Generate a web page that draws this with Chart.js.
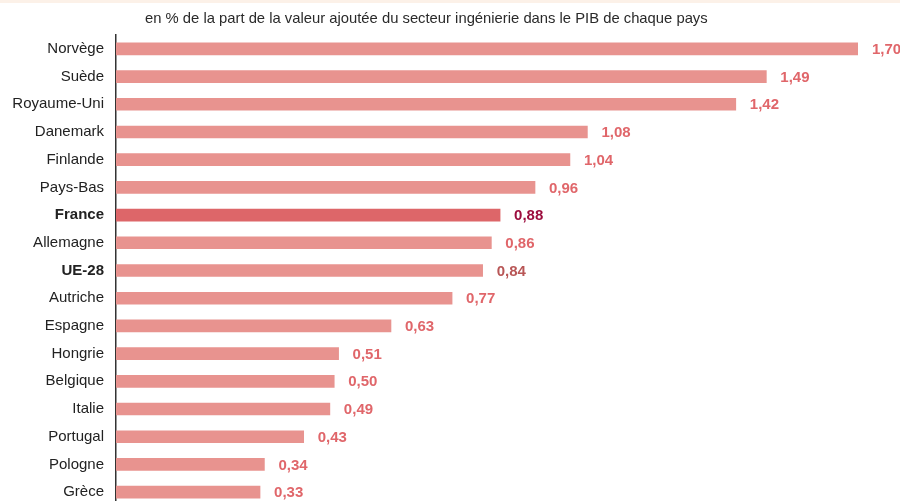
<!DOCTYPE html>
<html>
<head>
<meta charset="utf-8">
<script src="https://cdn.jsdelivr.net/npm/chart.js@4.4.1/dist/chart.umd.min.js"></script>
<style>
  html, body { margin: 0; padding: 0; background: #fff; overflow: hidden; }
  #band { position: absolute; left: 0; top: 0; width: 900px; height: 3px; background: #fcf1e8; }
  canvas { display: block; }
</style>
</head>
<body>
<canvas id="chart" width="900" height="515"></canvas>
<div id="band"></div>
<script>
// données
const countries = ["Norvège", "Suède", "Royaume-Uni", "Danemark", "Finlande", "Pays-Bas", "France", "Allemagne", "UE-28", "Autriche", "Espagne", "Hongrie", "Belgique", "Italie", "Portugal", "Pologne", "Grèce"];
const shares = [1.70, 1.49, 1.42, 1.08, 1.04, 0.96, 0.88, 0.86, 0.84, 0.77, 0.63, 0.51, 0.50, 0.49, 0.43, 0.34, 0.33];
const subtitle = "en % de la part de la valeur ajoutée du secteur ingénierie dans le PIB de chaque pays";

const boldRows = ["France", "UE-28"];

const barColors = countries.map(c => c === "France" ? "#dd6669" : "#e8938f");
const labelColors = countries.map(c => {
  if (c === "France") return "#9c0d3e";
  if (c === "UE-28") return "#b85656";
  return "#e0666a";
});

// étiquettes de valeurs + sous-titre
const valueLabels = {
  id: "valueLabels",
  afterDatasetsDraw(chart) {
    const ctx = chart.ctx;
    const meta = chart.getDatasetMeta(0);
    ctx.save();
    ctx.font = "bold 15px 'Liberation Sans', Arial, sans-serif";
    ctx.textBaseline = "middle";
    ctx.textAlign = "left";
    meta.data.forEach((bar, i) => {
      ctx.fillStyle = labelColors[i];
      ctx.fillText(shares[i].toFixed(2).replace(".", ","), bar.x + 14, bar.y + 1);
    });
    ctx.font = "14.8px 'Liberation Sans', Arial, sans-serif";
    ctx.fillStyle = "#2a2a2a";
    ctx.fillText(subtitle, 145, 19);
    ctx.restore();
  }
};

new Chart(document.getElementById("chart"), {
  type: "bar",
  data: {
    labels: countries,
    datasets: [{
      data: shares,
      backgroundColor: barColors,
      barThickness: 12,
      borderWidth: 0
    }]
  },
  options: {
    indexAxis: "y",
    responsive: false,
    animation: false,
    layout: { padding: { top: 35, right: 42, bottom: 0, left: 0 } },
    plugins: {
      legend: { display: false },
      tooltip: { enabled: false }
    },
    scales: {
      x: {
        display: false,
        min: 0,
        max: 1.70
      },
      y: {
        afterFit(scale) { scale.width = 116; },
        grid: { display: false, drawTicks: true, tickLength: 12 },
        border: { display: true, color: "#333", width: 1.5 },
        ticks: {
          padding: 0,
          color: "#222",
          font: (c) => ({
            family: "'Liberation Sans', Arial, sans-serif",
            size: 15,
            weight: boldRows.includes(countries[c.index]) ? "bold" : "normal"
          })
        }
      }
    }
  },
  plugins: [valueLabels]
});
</script>
</body>
</html>
